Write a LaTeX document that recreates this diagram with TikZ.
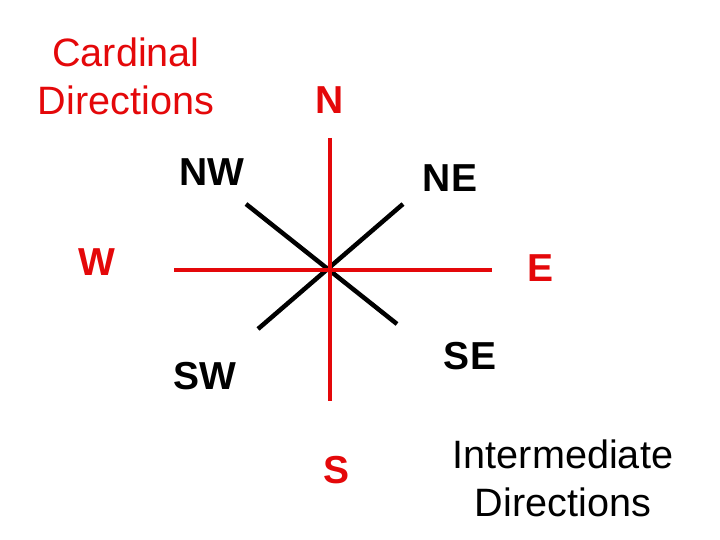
\documentclass[tikz,border=0pt]{standalone}
\usepackage{fontspec}
\setmainfont{Liberation Sans}
\definecolor{dirred}{RGB}{228,8,10}
\begin{document}
\begin{tikzpicture}[x=1pt,y=-1pt,font=\fontsize{39.6}{48}\selectfont]
    \tikzset{card/.style={text=dirred, font=\fontsize{39}{48}\selectfont\bfseries, inner sep=0pt},
             inter/.style={text=black, font=\fontsize{39}{48}\selectfont\bfseries, inner sep=0pt},
             redline/.style={draw=dirred, line width=4pt},
             blackline/.style={draw=black, line width=4.5pt}}
    \useasboundingbox (0,0) rectangle (720,540);
    \node[text=dirred, align=center, inner sep=0pt] (cardtitle) at (126,76) {Cardinal\\Directions};
    \node[align=center, inner sep=0pt] (intertitle) at (563,478) {Intermediate\\Directions};
    \node[card] (n) at (330,100) {N};
    \node[card] (s) at (337,470) {S};
    \node[card] (w) at (97,262) {W};
    \node[card] (e) at (540,268) {E};
    \node[inter] (nw) at (212,172) {NW};
    \node[inter] (ne) at (450,178) {NE};
    \node[inter] (sw) at (205,376) {SW};
    \node[inter] (se) at (470,356) {SE};
    \coordinate (nend) at (330,138);
    \coordinate (send) at (330,401);
    \coordinate (wend) at (174,270);
    \coordinate (eend) at (492,270);
    \coordinate (nwend) at (246,204);
    \coordinate (seend) at (397,324);
    \coordinate (neend) at (403,204);
    \coordinate (swend) at (258,329);
    \draw[blackline] (nwend) -- (seend);
    \draw[blackline] (neend) -- (swend);
    \draw[redline] (nend) -- (send);
    \draw[redline] (wend) -- (eend);
\end{tikzpicture}
\end{document}
